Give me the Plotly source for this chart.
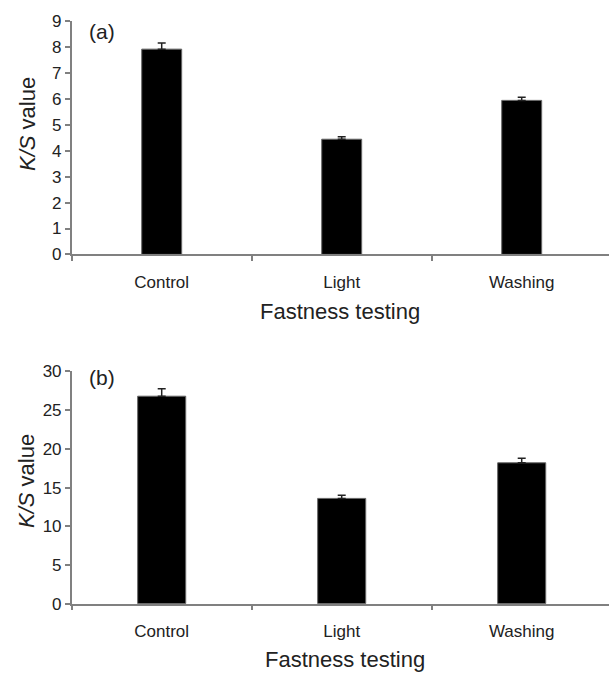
import plotly.graph_objects as go

categories = ["Control", "Light", "Washing"]
ks_a = [7.93, 4.45, 5.95]
err_a = [0.24, 0.10, 0.12]
ks_b = [26.8, 13.6, 18.2]
err_b = [0.95, 0.42, 0.6]
yticks_a = list(range(0, 10))
yticks_b = list(range(0, 31, 5))

W, H = 609, 673
fig = go.Figure()

fig.add_trace(go.Bar(x=categories, y=ks_a, width=0.222, xaxis="x", yaxis="y",
                     marker=dict(color="black", line=dict(color="#666", width=1)),
                     error_y=dict(type="data", array=err_a, arrayminus=[0]*3, symmetric=False,
                                  color="#222", thickness=1.5, width=4),
                     showlegend=False))
fig.add_trace(go.Bar(x=categories, y=ks_b, width=0.267, xaxis="x2", yaxis="y2",
                     marker=dict(color="black", line=dict(color="#666", width=1)),
                     error_y=dict(type="data", array=err_b, arrayminus=[0]*3, symmetric=False,
                                  color="#222", thickness=1.5, width=4),
                     showlegend=False))

def py(t):
    p = (t - 10.3) / 0.969
    return 1 - p / H

xdom = [71.7 / W, 1.0]
xrng = [-0.5, -0.5 + (W - 71.7) / 180.0]
tickfont = dict(family="Liberation Sans, Arial", size=17, color="#222")
axcol = "#808080"

common_x = dict(type="category", range=xrng, domain=xdom, showline=True, linecolor=axcol,
                linewidth=1.5, ticks="outside", tickson="boundaries", ticklen=5,
                tickcolor=axcol, tickwidth=1.5, tickfont=tickfont, showgrid=False,
                zeroline=False, ticklabelstandoff=11, fixedrange=True)
common_y = dict(showline=True, linecolor=axcol, linewidth=1.5, ticks="outside", ticklen=5,
                tickcolor=axcol, tickwidth=1.5, tickfont=tickfont, showgrid=False,
                zeroline=False, fixedrange=True)

fig.update_layout(
    autosize=True,
    margin=dict(l=0, r=0, t=0, b=0),
    paper_bgcolor="white", plot_bgcolor="white",
    xaxis=dict(common_x, anchor="y"),
    yaxis=dict(common_y, anchor="x", range=[0, 9], tickvals=yticks_a,
               domain=[py(255), py(22.7)]),
    xaxis2=dict(common_x, anchor="y2"),
    yaxis2=dict(common_y, anchor="x2", range=[0, 30], tickvals=yticks_b,
                domain=[py(603.3), py(371.7)]),
    font=dict(family="Liberation Sans, Arial", color="#222"),
)

titlefont = dict(family="Liberation Sans, Arial", size=22, color="#222")
ann = [
    dict(text="(a)", x=87 / W, y=py(32.7), xanchor="left", yanchor="middle", font=dict(titlefont, size=21)),
    dict(text="(b)", x=87 / W, y=py(378), xanchor="left", yanchor="middle", font=dict(titlefont, size=21)),
    dict(text="Fastness testing", x=340 / W, y=py(311.7), xanchor="center", yanchor="middle", font=titlefont),
    dict(text="Fastness testing", x=345 / W, y=py(659), xanchor="center", yanchor="middle", font=titlefont),
    dict(text="<i>K/S</i> value", x=27 / W, y=py(125), xanchor="center", yanchor="middle", textangle=-90, font=titlefont),
    dict(text="<i>K/S</i> value", x=26 / W, y=py(481), xanchor="center", yanchor="middle", textangle=-90, font=titlefont),
]
for a in ann:
    a.update(xref="paper", yref="paper", showarrow=False)
fig.update_layout(annotations=ann)

fig.write_html("out.html", default_width="100vw", default_height="100vh",
               config={"displayModeBar": False, "responsive": True},
               post_script="document.body.style.margin='0';document.body.style.overflow='hidden';")
